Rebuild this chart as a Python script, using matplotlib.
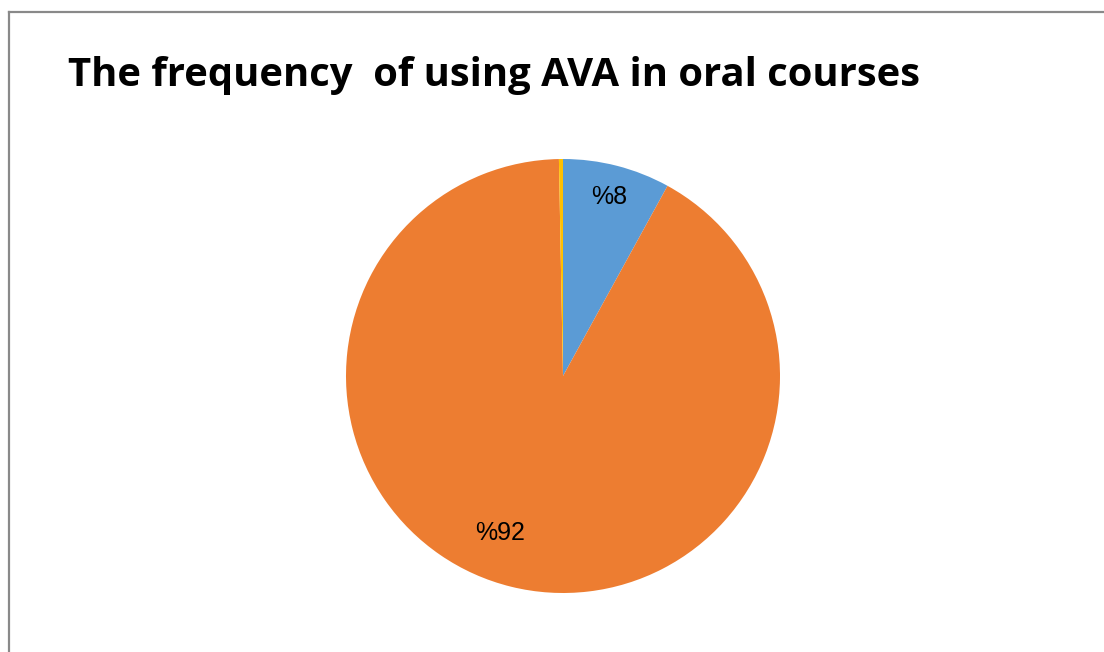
import matplotlib.pyplot as plt
import numpy as np
from matplotlib.lines import Line2D

# data
categories = ["Yes", "No", "Sometimes"]
shares = [8, 91.7, 0.3]
shown_labels = ["%8", "%92", ""]
colors = ["#5B9BD5", "#ED7D31", "#FFC000"]

title = "The frequency  of using AVA in oral courses"

W, H = 1104, 652
fig = plt.figure(figsize=(W / 100, H / 100), dpi=100)

# chart frame (only top and left edges visible in the crop)
fig.add_artist(Line2D([9 / W, 1], [1 - 11.5 / H, 1 - 11.5 / H], color="#898989", lw=1.6))
fig.add_artist(Line2D([9 / W, 9 / W], [0, 1 - 11.5 / H], color="#898989", lw=1.6))

fig.text(68 / W, 1 - 86 / H, title, fontsize=28.8, fontweight="bold",
         family="Open Sans", va="baseline", ha="left", color="black")

ax = fig.add_axes([346 / W, 59 / H, 434 / W, 434 / H])
wedges, _ = ax.pie(shares, colors=colors, startangle=90, counterclock=False,
                   wedgeprops=dict(linewidth=0))
ax.set_xlim(-1, 1)
ax.set_ylim(-1, 1)
ax.set_aspect("equal")

# labels placed inside the wedges, like the Excel default
label_dist = [0.85, 0.78, 0.8]
angle_shift = [0, -8, 0]
for w, lab, d, s in zip(wedges, shown_labels, label_dist, angle_shift):
    if not lab:
        continue
    ang = np.deg2rad((w.theta1 + w.theta2) / 2 + s)
    ax.text(d * np.cos(ang), d * np.sin(ang), lab, ha="center", va="center",
            fontsize=18, family="Liberation Sans", color="black")

fig.savefig("out.png", dpi=100)
